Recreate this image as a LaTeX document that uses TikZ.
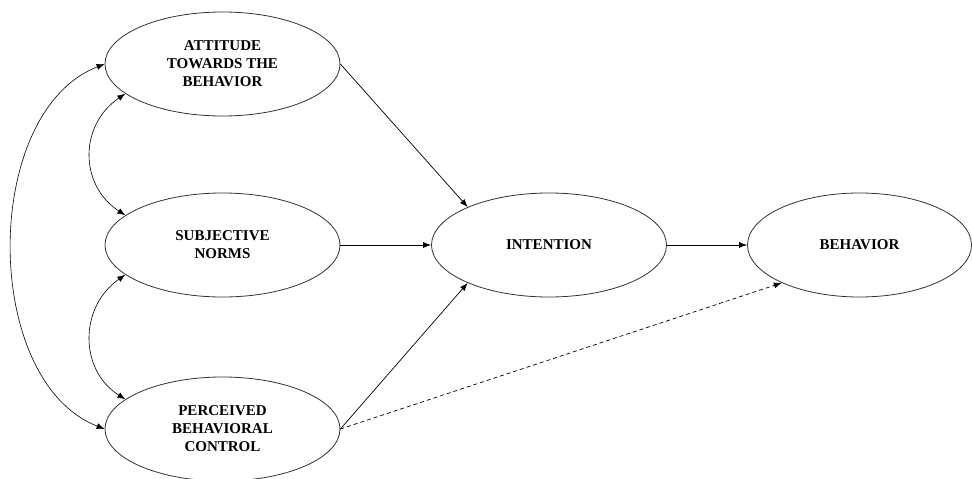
\documentclass[tikz,border=0pt]{standalone}
\usepackage{fontspec}
\setmainfont{Liberation Serif}
\usetikzlibrary{shapes.geometric,arrows.meta}
\begin{document}
\begin{tikzpicture}[x=1pt,y=-1pt,
  construct/.style={ellipse,draw=black!80,line width=0.8pt,minimum width=235pt,
    minimum height=104pt,inner sep=0pt,align=center,
    font=\fontsize{15}{18}\selectfont\bfseries},
  path/.style={line width=0.7pt,-{Latex[length=8pt,width=6pt]}},
  corr/.style={line width=0.6pt,{Latex[length=8pt,width=6pt]}-{Latex[length=8pt,width=6pt]}},
  weak/.style={path,dash pattern=on 4pt off 3pt}]
\useasboundingbox (0,0) rectangle (972,479);
\node[construct] (att) at (222.5,64) {ATTITUDE\\TOWARDS THE\\BEHAVIOR};
\node[construct] (sn)  at (222.5,245) {SUBJECTIVE\\NORMS};
\node[construct] (pbc) at (222.5,429) {PERCEIVED\\BEHAVIORAL\\CONTROL};
\node[construct] (int) at (549,245) {INTENTION};
\node[construct,minimum width=224pt] (beh) at (859.5,245) {BEHAVIOR};
% correlations between the three antecedents
\draw[corr] (att.west) .. controls (-19,112) and (-19,381) .. (pbc.west);
\draw[corr] (att.197) .. controls (79,125) and (79,185) .. (sn.163);
\draw[corr] (sn.197) .. controls (79,307) and (79,370) .. (pbc.163);
% direct paths
\draw[path] (att.east) -- (int.155.7);
\draw[path] (sn.east) -- (int.west);
\draw[path] (pbc.east) -- (int.205);
\draw[path] (int.east) -- (beh.west);
\draw[weak] (pbc.east) -- (beh.206);
\end{tikzpicture}
\end{document}
